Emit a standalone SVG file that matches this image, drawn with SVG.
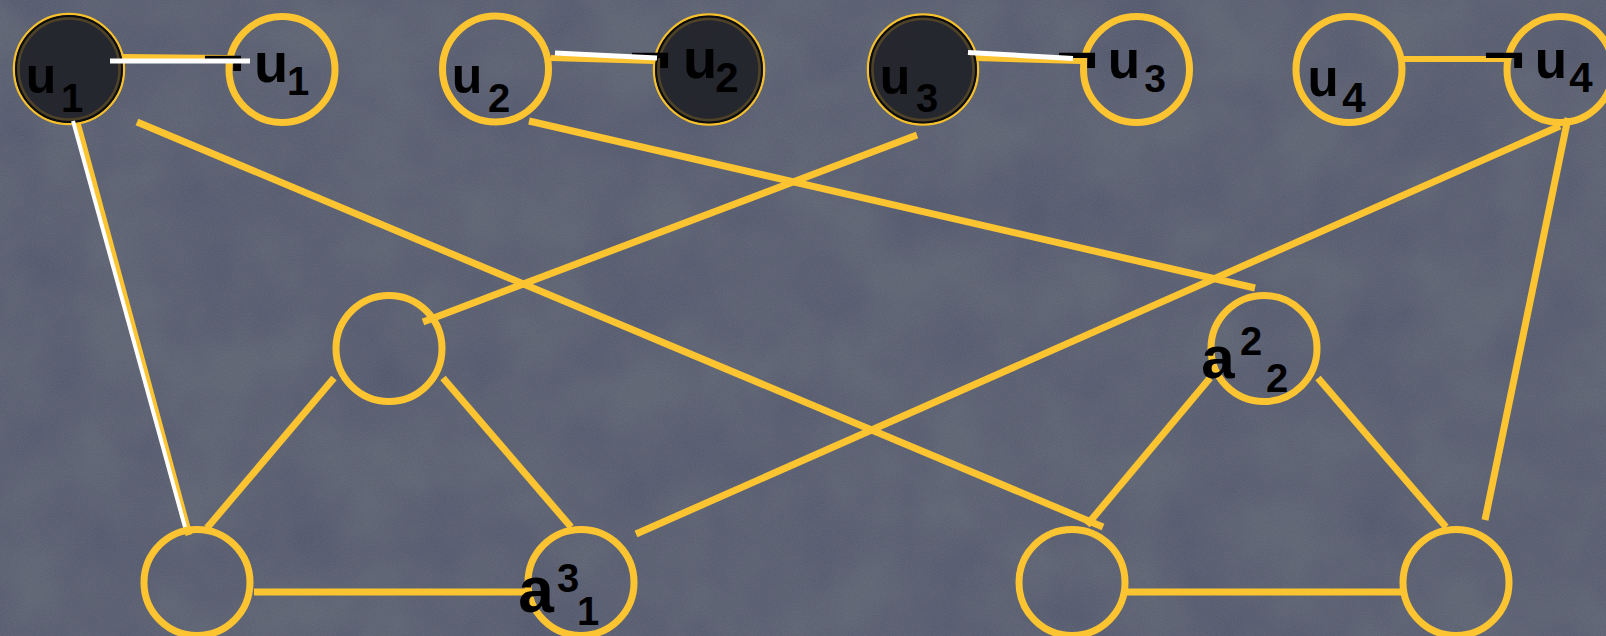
<svg xmlns="http://www.w3.org/2000/svg" width="1606" height="636" viewBox="0 0 1606 636">
<style>
.bg{fill:#5b6170}
.y{stroke:#fdc431;stroke-width:7;fill:none;stroke-linecap:butt}
.yt{stroke:#fdc431;stroke-width:6;fill:none}
.w{stroke:#ffffff;fill:none;stroke-linecap:butt}
.n{fill:none;stroke:#fdc431;stroke-width:7}
.dk{fill:#222329;fill-opacity:0.94;stroke:#f6c02c;stroke-width:2.5}
.dk2{fill:none;stroke:#0c0c0e;stroke-width:2}
.dk3{fill:none;stroke:#4e4227;stroke-width:2.5}
text{font-family:"Liberation Sans",Arial,sans-serif;font-weight:bold;fill:#000;text-anchor:middle}
.m{font-size:50px}
.s{font-size:40px}
.neg{font-size:60px}
.a{font-size:64px}
</style>
<defs>
<filter id="tex" x="0" y="0" width="100%" height="100%">
<feTurbulence type="fractalNoise" baseFrequency="0.9" numOctaves="2" seed="3"/>
<feColorMatrix type="matrix" values="0 0 0 0 1  0 0 0 0 1  0 0 0 0 1  0 0 0 0.09 0"/>
</filter>
<filter id="tex2" x="0" y="0" width="100%" height="100%">
<feTurbulence type="fractalNoise" baseFrequency="0.012" numOctaves="3" seed="7"/>
<feColorMatrix type="matrix" values="0 0 0 0 0  0 0 0 0 0  0 0 0 0 0.05  0 0 0 0.2 -0.05"/>
</filter>
</defs>
<rect class="bg" x="0" y="0" width="1606" height="636"/>
<rect x="0" y="0" width="1606" height="636" filter="url(#tex2)"/>
<rect x="0" y="0" width="1606" height="636" filter="url(#tex)"/>

<g id="connectors">
<line class="yt" x1="123" y1="57" x2="228" y2="58"/>
<line class="yt" x1="551" y1="58" x2="655" y2="61"/>
<line class="yt" x1="976" y1="58" x2="1081" y2="61"/>
<line class="yt" x1="1404" y1="59" x2="1507" y2="59"/>
<line class="y" x1="76" y1="119" x2="189" y2="535"/>
<line class="y" x1="137" y1="122" x2="1103" y2="527"/>
<line class="y" x1="529" y1="121" x2="1255" y2="288"/>
<line class="y" x1="917" y1="135" x2="423" y2="322"/>
<line class="y" x1="1560" y1="126" x2="636" y2="534"/>
<line class="y" x1="1568" y1="118" x2="1485" y2="520"/>
<line class="y" x1="334" y1="378" x2="207" y2="528"/>
<line class="y" x1="443" y1="378" x2="571" y2="527"/>
<line class="y" x1="254" y1="592" x2="526" y2="592"/>
<line class="y" x1="1210" y1="378" x2="1087" y2="525"/>
<line class="y" x1="1318" y1="378" x2="1446" y2="527"/>
<line class="y" x1="1127" y1="592" x2="1401" y2="592"/>
</g>

<g id="node-u1">
<circle class="dk" cx="69" cy="69" r="55"/>
<circle class="dk2" cx="69" cy="69" r="53"/>
<circle class="dk3" cx="69" cy="69" r="50.5"/>
<text class="m" x="41" y="93">u</text>
<text class="s" x="72" y="112">1</text>
</g>
<g id="node-not-u1">
<circle class="n" cx="282" cy="69.5" r="53"/>
<text class="neg" transform="translate(223,74) scale(1.2,0.8)">¬</text>
<text class="m" x="271" y="82" style="font-size:56px">u</text>
<text class="s" x="298" y="95">1</text>
</g>
<g id="node-u2">
<circle class="n" cx="495.5" cy="69" r="53"/>
<text class="m" x="467" y="93">u</text>
<text class="s" x="499" y="112">2</text>
</g>
<g id="node-not-u2">
<circle class="dk" cx="709" cy="69.5" r="55"/>
<circle class="dk2" cx="709" cy="69.5" r="53"/>
<circle class="dk3" cx="709" cy="69.5" r="50.5"/>
<text class="neg" transform="translate(650,71) scale(1.2,0.8)">¬</text>
<text class="m" x="700" y="78" style="font-size:56px">u</text>
<text class="s" x="727" y="92" style="font-size:42px">2</text>
</g>
<g id="node-u3">
<circle class="dk" cx="923" cy="69.5" r="55"/>
<circle class="dk2" cx="923" cy="69.5" r="53"/>
<circle class="dk3" cx="923" cy="69.5" r="50.5"/>
<text class="m" x="895" y="94">u</text>
<text class="s" x="927" y="112">3</text>
</g>
<g id="node-not-u3">
<circle class="n" cx="1136.5" cy="69.5" r="53"/>
<text class="neg" transform="translate(1077,71) scale(1.2,0.8)">¬</text>
<text class="m" x="1124" y="78" style="font-size:53px">u</text>
<text class="s" x="1155" y="92" style="font-size:39px">3</text>
</g>
<g id="node-u4">
<circle class="n" cx="1349" cy="69.5" r="53"/>
<text class="m" x="1323" y="96" style="font-size:51px">u</text>
<text class="s" x="1354" y="112" style="font-size:42px">4</text>
</g>
<g id="node-not-u4">
<circle class="n" cx="1560" cy="69.5" r="53"/>
<text class="neg" transform="translate(1504,71) scale(1.2,0.8)">¬</text>
<text class="m" x="1551" y="78" style="font-size:53px">u</text>
<text class="s" x="1581" y="92" style="font-size:42px">4</text>
</g>
<g id="node-mid-left">
<circle class="n" cx="389" cy="348.5" r="53"/>
</g>
<g id="node-a22">
<circle class="n" cx="1264" cy="348.5" r="53"/>
<text class="a" x="1218" y="378" style="font-size:60px">a</text>
<text class="s" x="1251" y="355">2</text>
<text class="s" x="1277" y="392">2</text>
</g>
<g id="node-bottom-left">
<circle class="n" cx="197" cy="582.5" r="53"/>
</g>
<g id="node-a31">
<circle class="n" cx="581" cy="582.5" r="53"/>
<text class="a" x="536" y="612">a</text>
<text class="s" x="568" y="592">3</text>
<text class="s" x="588" y="625">1</text>
</g>
<g id="node-bottom-3">
<circle class="n" cx="1072" cy="582.5" r="53"/>
</g>
<g id="node-bottom-4">
<circle class="n" cx="1456" cy="582.5" r="53"/>
</g>

<g id="connector-highlights">
<line class="w" stroke-width="5" x1="110" y1="61" x2="250" y2="61"/>
<line class="w" stroke-width="5" x1="555" y1="53" x2="657" y2="58"/>
<line class="w" stroke-width="5" x1="968" y1="52.5" x2="1073" y2="58.5"/>
<line class="w" stroke-width="4" x1="73" y1="121" x2="185" y2="527"/>
</g>
</svg>
